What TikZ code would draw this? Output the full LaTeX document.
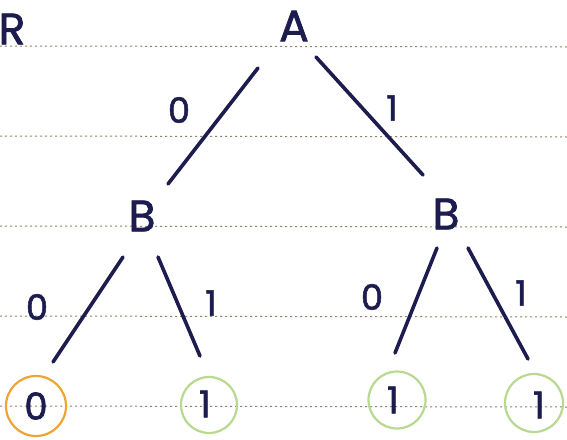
\documentclass[tikz,border=0pt]{standalone}
\usepackage{fontspec}
\setmainfont{Poppins}
\newfontfamily\inkfont{Poppins}[FakeBold=1.6]
\usetikzlibrary{calc}
\definecolor{ink}{HTML}{1C1C4E}
\definecolor{rule}{HTML}{8F8468}
\definecolor{orangeleaf}{HTML}{F0A435}
\definecolor{greenleaf}{HTML}{B9D890}
\tikzset{
  varnode/.style={inner sep=0pt, text=ink, font=\inkfont\fontsize{44}{44}\selectfont},
  edgelabel/.style={inner sep=0pt, text=ink, font=\inkfont\fontsize{35}{35}\selectfont},
  leaftext/.style={inner sep=0pt, text=ink, font=\inkfont\fontsize{37}{37}\selectfont},
  leafring/.style={circle, draw=#1, line width=2.2pt, minimum size=60pt, inner sep=0pt},
  edgeline/.style={draw=ink, line width=3.6pt, line cap=round},
  ruleline/.style={draw=rule, line width=1pt, dash pattern=on 2pt off 3pt}
}
\begin{document}
\begin{tikzpicture}[x=1pt,y=-1pt]
\useasboundingbox (0,0) rectangle (567,439);
\fill[white] (0,0) rectangle (567,439);
% ruled paper lines
\foreach \yy in {46,136,226,316,406}
  \draw[ruleline] (0,\yy) -- (567,\yy+1);
% variable order label and nodes
\node[varnode] (R) at (12,29) {R};
\node[varnode] (A) at (294,26) {A};
\node[varnode] (BL) at (142,216) {B};
\node[varnode] (BR) at (446,214) {B};
% leaves
\node[leafring=orangeleaf] (L1) at (36,406) {};
\node[leafring=greenleaf, minimum size=56pt] (L2) at (209,405) {};
\node[leafring=greenleaf, minimum size=57pt] (L3) at (397,400) {};
\node[leafring=greenleaf, minimum size=58pt] (L4) at (534,403) {};
\node[leaftext] (T1) at (L1) {0};
\node[leaftext] (T2) at ($(L2)+(-4,-1)$) {1};
\node[leaftext] (T3) at ($(L3)+(-4,0)$) {1};
\node[leaftext] (T4) at ($(L4)+(5,2)$) {1};
% edges
\draw[edgeline] ($(A)+(-36,42)$) -- ($(BL)+(26,-32)$);
\draw[edgeline] ($(A)+(22,31)$) -- ($(BR)+(-23,-39)$);
\draw[edgeline] ($(BL)+(-19,41)$) -- ($(L1)+(17,-44)$);
\draw[edgeline] ($(BL)+(16,41)$) -- ($(L2)+(-9,-49)$);
\draw[edgeline] ($(BR)+(-9,34)$) -- ($(L3)+(-2,-47)$);
\draw[edgeline] ($(BR)+(22,34)$) -- ($(L4)+(-6,-44)$);
% edge labels
\node[edgelabel] (e1) at (179,110) {0};
\node[edgelabel] (e2) at (392,108) {1};
\node[edgelabel] (e3) at (37,307) {0};
\node[edgelabel] (e4) at (211,303) {1};
\node[edgelabel] (e5) at (372,297) {0};
\node[edgelabel] (e6) at (521,293) {1};
\end{tikzpicture}
\end{document}
